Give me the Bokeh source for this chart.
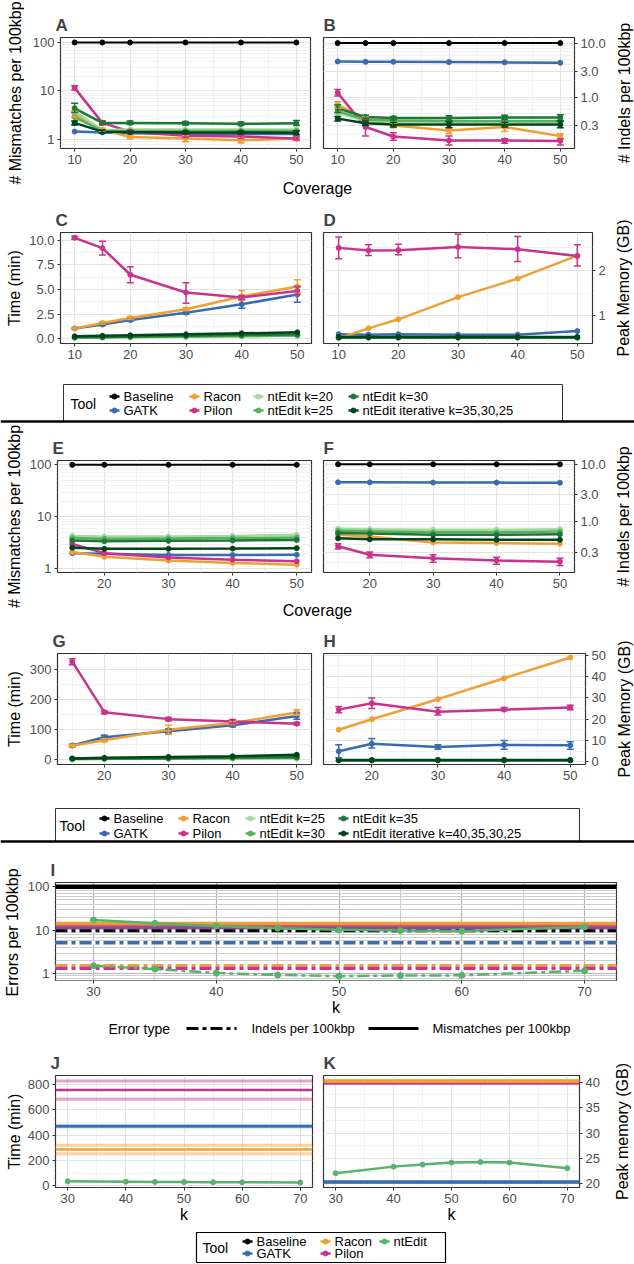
import math
from bokeh.plotting import figure
from bokeh.layouts import row, column
from bokeh.models import (Range1d, FixedTicker, CustomJSTickFormatter, Whisker,
                          TeeHead, ColumnDataSource, Span)
from bokeh.embed import file_html
from bokeh.resources import INLINE
from bokeh.core.properties import value

FONT = "Liberation Sans"

# ---------------- data ----------------
tools_1 = ["Baseline", "GATK", "Racon", "Pilon", "ntEdit k=20", "ntEdit k=25",
           "ntEdit k=30", "ntEdit iterative k=35,30,25"]
tools_2 = ["Baseline", "GATK", "Racon", "Pilon", "ntEdit k=25", "ntEdit k=30",
           "ntEdit k=35", "ntEdit iterative k=40,35,30,25"]
tools_3 = ["Baseline", "GATK", "Racon", "Pilon", "ntEdit"]

colors_1 = {"Baseline": "#000000", "GATK": "#386CB0", "Racon": "#F0A033", "Pilon": "#C8338E",
            "ntEdit k=20": "#A6DBA0", "ntEdit k=25": "#5AAE61", "ntEdit k=30": "#1B7837",
            "ntEdit iterative k=35,30,25": "#00441B"}
colors_2 = {"Baseline": "#000000", "GATK": "#386CB0", "Racon": "#F0A033", "Pilon": "#C8338E",
            "ntEdit k=25": "#A6DBA0", "ntEdit k=30": "#5AAE61", "ntEdit k=35": "#1B7837",
            "ntEdit iterative k=40,35,30,25": "#00441B"}
colors_3 = {"Baseline": "#000000", "GATK": "#386CB0", "Racon": "#F0A033", "Pilon": "#C8338E",
            "ntEdit": "#55B46A"}

coverage_1 = [10, 15, 20, 30, 40, 50]
coverage_2 = [15, 20, 30, 40, 50]

A_mismatch = {
    "Baseline": [100, 100, 100, 100, 100, 100],
    "GATK": [1.46, 1.40, 1.35, 1.30, 1.30, 1.30],
    "Racon": [3.3, 1.6, 1.12, 1.05, 0.96, 1.05],
    "Pilon": [11.6, 2.2, 1.45, 1.2, 1.15, 1.05],
    "ntEdit k=20": [3.8, 1.55, 1.6, 1.6, 1.6, 1.6],
    "ntEdit k=25": [2.9, 1.5, 1.5, 1.5, 1.5, 1.5],
    "ntEdit k=30": [4.4, 2.2, 2.2, 2.15, 2.1, 2.15],
    "ntEdit iterative k=35,30,25": [2.2, 1.45, 1.42, 1.4, 1.4, 1.38],
}
A_err = {
    "Racon": ([2.9, 1.5, 1.05, 0.9, 0.85, 0.95], [3.8, 1.7, 1.2, 1.2, 1.08, 1.15]),
    "Pilon": ([10.5, 2.0, 1.35, 1.1, 1.05, 0.98], [12.8, 2.4, 1.55, 1.3, 1.25, 1.12]),
    "ntEdit k=30": ([3.6, 2.05, 2.05, 2.0, 1.95, 1.95], [5.6, 2.4, 2.4, 2.35, 2.3, 2.45]),
    "ntEdit iterative k=35,30,25": ([2.0, 1.35, 1.35, 1.3, 1.3, 1.25], [2.4, 1.55, 1.5, 1.5, 1.5, 1.52]),
}

B_indel = {
    "Baseline": [10, 10, 10, 10, 10, 10],
    "GATK": [4.58, 4.5, 4.5, 4.45, 4.4, 4.33],
    "Racon": [0.72, 0.4, 0.3, 0.24, 0.28, 0.19],
    "Pilon": [1.2, 0.28, 0.187, 0.158, 0.158, 0.155],
    "ntEdit k=20": [0.5, 0.37, 0.35, 0.35, 0.35, 0.35],
    "ntEdit k=25": [0.55, 0.38, 0.37, 0.36, 0.36, 0.36],
    "ntEdit k=30": [0.62, 0.43, 0.41, 0.41, 0.42, 0.42],
    "ntEdit iterative k=35,30,25": [0.40, 0.33, 0.31, 0.31, 0.31, 0.31],
}
B_err = {
    "Racon": ([0.62, 0.36, 0.27, 0.21, 0.23, 0.17], [0.82, 0.44, 0.33, 0.27, 0.33, 0.21]),
    "Pilon": ([1.05, 0.19, 0.16, 0.13, 0.14, 0.13], [1.38, 0.38, 0.22, 0.19, 0.17, 0.17]),
    "ntEdit k=30": ([0.52, 0.40, 0.38, 0.37, 0.38, 0.37], [0.72, 0.46, 0.44, 0.45, 0.46, 0.47]),
    "ntEdit iterative k=35,30,25": ([0.36, 0.30, 0.28, 0.27, 0.28, 0.27], [0.44, 0.36, 0.34, 0.35, 0.34, 0.36]),
}

C_time = {
    "GATK": [1.05, 1.45, 1.9, 2.65, 3.5, 4.5],
    "Racon": [1.05, 1.6, 2.1, 3.0, 4.3, 5.3],
    "Pilon": [10.25, 9.2, 6.5, 4.7, 4.2, 4.85],
    "ntEdit k=20": [0.10, 0.12, 0.15, 0.20, 0.25, 0.30],
    "ntEdit k=25": [0.12, 0.14, 0.17, 0.22, 0.28, 0.33],
    "ntEdit k=30": [0.15, 0.18, 0.22, 0.30, 0.38, 0.45],
    "ntEdit iterative k=35,30,25": [0.25, 0.30, 0.35, 0.45, 0.55, 0.65],
}
C_err = {
    "GATK": ([1.0, 1.35, 1.8, 2.5, 3.1, 3.7], [1.1, 1.55, 2.0, 2.8, 3.9, 5.3]),
    "Racon": ([1.0, 1.5, 1.95, 2.85, 3.9, 4.6], [1.1, 1.7, 2.25, 3.15, 4.9, 6.0]),
    "Pilon": ([10.1, 8.5, 5.7, 3.6, 4.0, 4.5], [10.4, 9.9, 7.3, 5.7, 4.4, 5.3]),
}

D_memory = {
    "GATK": [0.59, 0.58, 0.59, 0.58, 0.58, 0.66],
    "Racon": [0.50, 0.72, 0.92, 1.41, 1.82, 2.33],
    "Pilon": [2.50, 2.44, 2.45, 2.52, 2.47, 2.32],
    "ntEdit k=20": [0.51, 0.51, 0.51, 0.51, 0.51, 0.51],
    "ntEdit k=25": [0.515, 0.515, 0.515, 0.515, 0.515, 0.515],
    "ntEdit k=30": [0.52, 0.52, 0.52, 0.52, 0.52, 0.52],
    "ntEdit iterative k=35,30,25": [0.53, 0.53, 0.53, 0.53, 0.53, 0.53],
}
D_err = {
    "Pilon": ([2.26, 2.33, 2.35, 2.28, 2.20, 2.10], [2.74, 2.57, 2.58, 2.80, 2.75, 2.57]),
}

E_mismatch = {
    "Baseline": [100, 100, 100, 100, 100],
    "GATK": [2.0, 1.95, 1.85, 1.85, 1.86],
    "Racon": [2.1, 1.7, 1.45, 1.3, 1.2],
    "Pilon": [3.0, 2.0, 1.65, 1.5, 1.4],
    "ntEdit k=25": [4.3, 4.2, 4.2, 4.3, 4.5],
    "ntEdit k=30": [3.9, 3.8, 3.85, 3.9, 4.0],
    "ntEdit k=35": [3.5, 3.4, 3.45, 3.5, 3.6],
    "ntEdit iterative k=40,35,30,25": [2.55, 2.42, 2.42, 2.45, 2.5],
}
E_err = {}

F_indel = {
    "Baseline": [10, 10, 10, 10, 10],
    "GATK": [4.87, 4.85, 4.8, 4.8, 4.78],
    "Racon": [0.6, 0.56, 0.44, 0.43, 0.42],
    "Pilon": [0.38, 0.27, 0.235, 0.215, 0.205],
    "ntEdit k=25": [0.76, 0.75, 0.73, 0.73, 0.75],
    "ntEdit k=30": [0.70, 0.69, 0.66, 0.66, 0.68],
    "ntEdit k=35": [0.64, 0.63, 0.60, 0.60, 0.61],
    "ntEdit iterative k=40,35,30,25": [0.52, 0.50, 0.50, 0.49, 0.49],
}
F_err = {
    "Pilon": ([0.34, 0.24, 0.20, 0.185, 0.175], [0.42, 0.30, 0.27, 0.245, 0.235]),
}

G_time = {
    "GATK": [48, 75, 95, 115, 145],
    "Racon": [47, 65, 100, 122, 157],
    "Pilon": [325, 158, 135, 127, 120],
    "ntEdit k=25": [2, 3, 4, 5, 5],
    "ntEdit k=30": [3, 4, 5, 6, 7],
    "ntEdit k=35": [4, 5, 6, 8, 9],
    "ntEdit iterative k=40,35,30,25": [5, 7, 10, 12, 17],
}
G_err = {
    "GATK": ([44, 69, 88, 110, 135], [52, 82, 102, 120, 155]),
    "Racon": ([44, 60, 85, 117, 148], [50, 70, 115, 127, 166]),
    "Pilon": ([315, 153, 130, 120, 116], [335, 163, 140, 134, 124]),
}

H_memory = {
    "GATK": [5, 8.5, 7, 8, 7.8],
    "Racon": [15.1, 20, 29.4, 39.2, 48.9],
    "Pilon": [24.5, 27.5, 23.5, 24.5, 25.5],
    "ntEdit k=25": [0.7, 0.7, 0.7, 0.7, 0.7],
    "ntEdit k=30": [0.75, 0.75, 0.75, 0.75, 0.75],
    "ntEdit k=35": [0.8, 0.8, 0.8, 0.8, 0.8],
    "ntEdit iterative k=40,35,30,25": [0.9, 0.9, 0.9, 0.9, 0.9],
}
H_err = {
    "GATK": ([2, 6.5, 6, 6, 6], [8, 11, 8, 10, 9.5]),
    "Pilon": ([23, 25, 22, 24, 24.5], [26, 30, 25.5, 25.5, 26.5]),
}

I_k = [30, 35, 40, 45, 50, 55, 60, 70]
I_ntedit_mismatch = [17.2, 14.5, 12.6, 11.2, 10.3, 9.9, 9.6, 12.0]
I_ntedit_indel = [1.54, 1.30, 1.05, 0.95, 0.89, 0.92, 0.93, 1.19]
I_mismatch = {"Baseline": 100, "GATK": 12.0, "Racon": 14.0, "Pilon": 12.0}
I_indel = {"Baseline": 9.9, "GATK": 5.2, "Racon": 1.55, "Pilon": 1.36}

JK_k = [30, 40, 45, 50, 55, 60, 70]
J_ntedit_time = [37, 34, 32, 31, 30, 29, 27]
K_ntedit_memory = [22.1, 23.4, 23.8, 24.2, 24.3, 24.2, 23.1]
J_time_mean = {"GATK": 470, "Racon": 287, "Pilon": 755}
J_time_sd = {"GATK": 4, "Racon": 33, "Pilon": 72}
K_memory_mean = {"GATK": 20.4, "Racon": 40.2, "Pilon": 39.75}
K_memory_sd = {"GATK": 0.1, "Racon": 0.15, "Pilon": 0.05}

x_ticks_1 = [10, 20, 30, 40, 50]
x_ticks_2 = [20, 30, 40, 50]
x_minor_12 = [15, 25, 35, 45]
k_ticks = [30, 40, 50, 60, 70]
k_minor = [35, 45, 55, 65]


# ---------------- helpers ----------------
def log_minor(lo, hi):
    return [m * 10 ** d for d in range(lo, hi) for m in range(2, 10)]


def panel(title, w, h, bl, br, bt, bb, xr, yr, xticks, xminor, yticks, yminor,
          ylog=False, yright=False, xlabel=None,
          yfmt="return String(tick);", toff=-5,
          gmaj="#E3E3E3", gmin="#EEEEEE", wmaj=1.2, wmin=0.8):
    p = figure(width=w, height=h, x_range=Range1d(*xr), y_range=Range1d(*yr),
               y_axis_type="log" if ylog else "linear",
               y_axis_location="right" if yright else "left",
               output_backend="svg", toolbar_location=None,
               min_border_left=bl, min_border_right=br,
               min_border_top=bt, min_border_bottom=bb)
    p.title.text = title
    p.title.text_font = FONT
    p.title.text_font_size = "17px"
    p.title.text_font_style = "bold"
    p.title.align = "left"
    p.title.offset = toff
    p.title.standoff = 6
    p.outline_line_color = "#333333"
    p.outline_line_width = 1.2
    p.xaxis[0].ticker = FixedTicker(ticks=xticks, minor_ticks=xminor)
    p.yaxis[0].ticker = FixedTicker(ticks=yticks, minor_ticks=yminor)
    p.yaxis[0].formatter = CustomJSTickFormatter(code=yfmt)
    p.xaxis[0].formatter = CustomJSTickFormatter(code="return String(tick);")
    for ax in [p.xaxis[0], p.yaxis[0]]:
        ax.axis_line_color = None
        ax.major_tick_line_color = "#333333"
        ax.major_tick_out = 3
        ax.major_tick_in = 0
        ax.minor_tick_line_color = None
        ax.major_label_text_font = FONT
        ax.major_label_text_font_size = "13px"
        ax.major_label_text_color = "#4D4D4D"
        ax.major_label_standoff = 2
        ax.axis_label_text_font = FONT
        ax.axis_label_text_font_size = "16px"
        ax.axis_label_text_font_style = "normal"
        ax.axis_label_text_color = "black"
    if xlabel:
        p.xaxis[0].axis_label = xlabel
        p.xaxis[0].axis_label_standoff = 0
    for g in (p.xgrid[0], p.ygrid[0]):
        g.grid_line_color = gmaj
        g.grid_line_width = wmaj
        g.minor_grid_line_color = gmin
        g.minor_grid_line_width = wmin
    return p


def draw_series(p, x, data, err, colors, order, lw=2.5, size=5):
    for t in order:
        if t not in data:
            continue
        c = colors[t]
        if t in err:
            lo, hi = err[t]
            src = ColumnDataSource(dict(x=x, lo=lo, hi=hi))
            p.add_layout(Whisker(source=src, base="x", lower="lo", upper="hi",
                                 line_color=c, line_width=1.5, level="glyph",
                                 upper_head=TeeHead(size=7, line_color=c, line_width=1.5),
                                 lower_head=TeeHead(size=7, line_color=c, line_width=1.5)))
        p.line(x, data[t], line_color=c, line_width=lw if t != "Baseline" else 2)
        p.scatter(x, data[t], size=size, color=c)


def span(p, y, color, width, alpha=1.0, dash="solid"):
    p.add_layout(Span(location=y, dimension="width", line_color=color, line_width=width,
                      line_alpha=alpha, line_dash=dash, level="underlay"))


def strip(w, h):
    p = figure(width=w, height=h, x_range=Range1d(0, w), y_range=Range1d(h, 0),
               x_axis_location=None, y_axis_location=None, title=None,
               output_backend="svg", toolbar_location=None,
               min_border_left=0, min_border_right=0, min_border_top=0, min_border_bottom=0)
    p.grid.visible = False
    p.outline_line_color = None
    return p


def txt(p, x, y, s, size="13px", align="left", angle=0.0):
    p.text(x=[x], y=[y], text=[s], text_font=value(FONT), text_font_size=value(size),
           text_align=align, text_baseline="middle", text_color="black", angle=angle)


def vlabel(w, h, x, y, s, size="16px"):
    # wrapped in a column so that Bokeh does not align its frame with the panels
    p = strip(w, h)
    txt(p, x, y, s, size=size, align="center", angle=math.pi / 2)
    return column(p)


def tool_legend(p, tools, colors, title_xy, label_x, rows_y):
    txt(p, title_xy[0], title_xy[1], "Tool", size="14px")
    for i, t in enumerate(tools):
        cx = label_x[i // 2]
        cy = rows_y[i % 2]
        p.segment(x0=[cx - 14], y0=[cy], x1=[cx - 4], y1=[cy], line_color=colors[t], line_width=2.5)
        p.scatter([cx - 9], [cy], size=5, color=colors[t])
        txt(p, cx, cy, t)


# ---------------- panels ----------------
pA = panel("A", 293, 172, 36, 7, 37, 24, (7.45, 52.55), (0.652, 126.8), x_ticks_1, x_minor_12,
           [1, 10, 100], log_minor(-1, 3), ylog=True)
draw_series(pA, coverage_1, A_mismatch, A_err, colors_1, tools_1)

pB = panel("B", 291, 172, 6, 33, 37, 24, (7.45, 52.55), (0.112, 12.7), x_ticks_1, x_minor_12,
           [0.3, 1, 3, 10], log_minor(-1, 2), ylog=True, yright=True,
           yfmt="return tick.toFixed(1);", toff=0)
draw_series(pB, coverage_1, B_indel, B_err, colors_1, tools_1)

pC = panel("C", 293, 167, 36, 6, 32, 24, (7.45, 52.55), (-0.48, 10.79), x_ticks_1, x_minor_12,
           [0, 2.5, 5, 7.5, 10], [1.25, 3.75, 6.25, 8.75], yfmt="return tick.toFixed(1);")
draw_series(pC, coverage_1, C_time, C_err, colors_1, tools_1)

pD = panel("D", 291, 167, 6, 14, 32, 24, (7.45, 52.55), (0.385, 2.84), x_ticks_1, x_minor_12,
           [1, 2], [0.5, 1.5, 2.5], yright=True, toff=0)
draw_series(pD, coverage_1, D_memory, D_err, colors_1, tools_1)

pE = panel("E", 293, 173, 33, 6, 37, 24, (12.7, 52.3), (0.85, 121), x_ticks_2, x_minor_12,
           [1, 10, 100], log_minor(-1, 3), ylog=True)
draw_series(pE, coverage_2, E_mismatch, E_err, colors_2, tools_2)

pF = panel("F", 291, 173, 6, 34, 37, 24, (12.7, 52.3), (0.133, 11.6), x_ticks_2, x_minor_12,
           [0.3, 1, 3, 10], log_minor(-1, 2), ylog=True, yright=True,
           yfmt="return tick.toFixed(1);", toff=0)
draw_series(pF, coverage_2, F_indel, F_err, colors_2, tools_2)

pG = panel("G", 293, 168, 33, 6, 31, 26, (12.7, 52.3), (-15, 352), x_ticks_2, x_minor_12,
           [0, 100, 200, 300], [50, 150, 250])
draw_series(pG, coverage_2, G_time, G_err, colors_2, tools_2)

pH = panel("H", 291, 168, 6, 21, 31, 26, (12.7, 52.3), (-1.2, 50.8), x_ticks_2, x_minor_12,
           [0, 10, 20, 30, 40, 50], [5, 15, 25, 35, 45], yright=True, toff=0)
draw_series(pH, coverage_2, H_memory, H_err, colors_2, tools_2)

pI = panel("I", 610, 175, 31, 18, 39, 36, (26.9, 72.6), (0.708, 125), k_ticks, k_minor,
           [1, 10, 100], log_minor(-1, 3), ylog=True, xlabel="k",
           gmaj="#B5B5B5", gmin="#CDCDCD", wmaj=1.2, wmin=1.0)
DASHDOT = "12 4 4 4"
for t in ["Baseline", "GATK", "Racon", "Pilon"]:
    span(pI, I_indel[t], "white", 3.5)
    span(pI, I_indel[t], colors_3[t], 3.5, dash=DASHDOT)
span(pI, I_mismatch["Baseline"], colors_3["Baseline"], 4.5)
span(pI, I_mismatch["GATK"], colors_3["GATK"], 4.5)
span(pI, I_mismatch["Racon"], colors_3["Racon"], 4.5)
span(pI, I_mismatch["Pilon"], colors_3["Pilon"], 4.5, alpha=0.6)
pI.line(I_k, I_ntedit_mismatch, line_color=colors_3["ntEdit"], line_width=2.5)
pI.scatter(I_k, I_ntedit_mismatch, size=6, color=colors_3["ntEdit"])
pI.line(I_k, I_ntedit_indel, line_color=colors_3["ntEdit"], line_width=2.5, line_dash=DASHDOT)
pI.scatter(I_k, I_ntedit_indel, size=6, color=colors_3["ntEdit"])

pJ = panel("J", 293, 183, 31, 5, 33, 38, (27.9, 72.1), (-12, 870), k_ticks, k_minor,
           [0, 200, 400, 600, 800], [100, 300, 500, 700], xlabel="k")
for t in ["GATK", "Racon", "Pilon"]:
    span(pJ, J_time_mean[t] + J_time_sd[t], colors_3[t], 3, alpha=0.45)
    span(pJ, J_time_mean[t] - J_time_sd[t], colors_3[t], 3, alpha=0.45)
    span(pJ, J_time_mean[t], colors_3[t], 2.5)
pJ.line(JK_k, J_ntedit_time, line_color=colors_3["ntEdit"], line_width=2.5)
pJ.scatter(JK_k, J_ntedit_time, size=5, color=colors_3["ntEdit"])

pK = panel("K", 291, 183, 6, 29, 33, 38, (27.9, 72.1), (19.3, 41.3), k_ticks, k_minor,
           [20, 25, 30, 35, 40], [22.5, 27.5, 32.5, 37.5], yright=True, xlabel="k", toff=0)
for t in ["GATK", "Pilon", "Racon"]:
    span(pK, K_memory_mean[t] + K_memory_sd[t], colors_3[t], 2, alpha=0.45)
    span(pK, K_memory_mean[t] - K_memory_sd[t], colors_3[t], 2, alpha=0.45)
    span(pK, K_memory_mean[t], colors_3[t], 3.5 if t != "Pilon" else 2)
pK.line(JK_k, K_ntedit_memory, line_color=colors_3["ntEdit"], line_width=2.5)
pK.scatter(JK_k, K_ntedit_memory, size=5, color=colors_3["ntEdit"])

# ---------------- axis titles, legends, separators ----------------
labA = vlabel(24, 200, 15, 92.5, "# Mismatches per 100kbp")
labB = vlabel(26, 172, 16, 92.5, "# Indels per 100kbp")
cov1 = strip(610, 28)
txt(cov1, 293, 16, "Coverage", size="16px", align="center")

labC = vlabel(24, 167, 14, 87.5, "Time (min)")
labD = vlabel(26, 167, 15, 87.5, "Peak Memory (GB)")

leg1 = strip(634, 56)
leg1.multi_line(xs=[[63, 63, 562, 562]], ys=[[54, 17, 17, 54]], line_color="#333333", line_width=1)
leg1.line([0, 634], [54, 54], line_color="black", line_width=2.5)
tool_legend(leg1, tools_1, colors_1, (70, 36), [123, 203, 267, 362], [29, 43])

labE = vlabel(24, 199, 14, 93, "# Mismatches per 100kbp")
labF = vlabel(26, 173, 15, 93, "# Indels per 100kbp")
cov2 = strip(610, 26)
txt(cov2, 293, 14, "Coverage", size="16px", align="center")

labG = vlabel(24, 168, 14, 86.5, "Time (min)")
labH = vlabel(26, 168, 16, 86.5, "Peak Memory (GB)")

leg2 = strip(634, 53)
leg2.multi_line(xs=[[55, 55, 579, 579]], ys=[[51, 18, 18, 51]], line_color="#333333", line_width=1)
leg2.line([0, 634], [51, 51], line_color="black", line_width=2.5)
tool_legend(leg2, tools_2, colors_2, (59, 35.5), [113, 192, 259, 352], [28, 43])

labI = vlabel(24, 175, 12, 89, "Errors per 100kbp")

errleg = strip(634, 24)
txt(errleg, 108, 10, "Error type", size="14px")
errleg.line([186, 236], [10, 10], line_color="black", line_width=3, line_dash=DASHDOT)
txt(errleg, 251, 10, "Indels per 100kbp")
errleg.line([368, 418], [10, 10], line_color="black", line_width=3)
txt(errleg, 432, 10, "Mismatches per 100kbp")

labJ = vlabel(24, 183, 14, 89, "Time (min)")
labK = vlabel(26, 183, 14, 89, "Peak memory (GB)")

leg3 = strip(634, 38)
leg3.multi_line(xs=[[196, 196, 445, 445, 196]], ys=[[37, 7, 7, 37, 37]], line_color="black", line_width=1.2)
tool_legend(leg3, tools_3, colors_3, (202, 22), [256, 334, 393], [16, 28])

layout = column(
    row(labA, column(row(pA, pB, labB), cov1)),
    row(labC, pC, pD, labD),
    leg1,
    row(labE, column(row(pE, pF, labF), cov2)),
    row(labG, pG, pH, labH),
    leg2,
    row(labI, pI),
    errleg,
    row(labJ, pJ, pK, labK),
    leg3,
)

open("out.html", "w").write(file_html(layout, INLINE))
